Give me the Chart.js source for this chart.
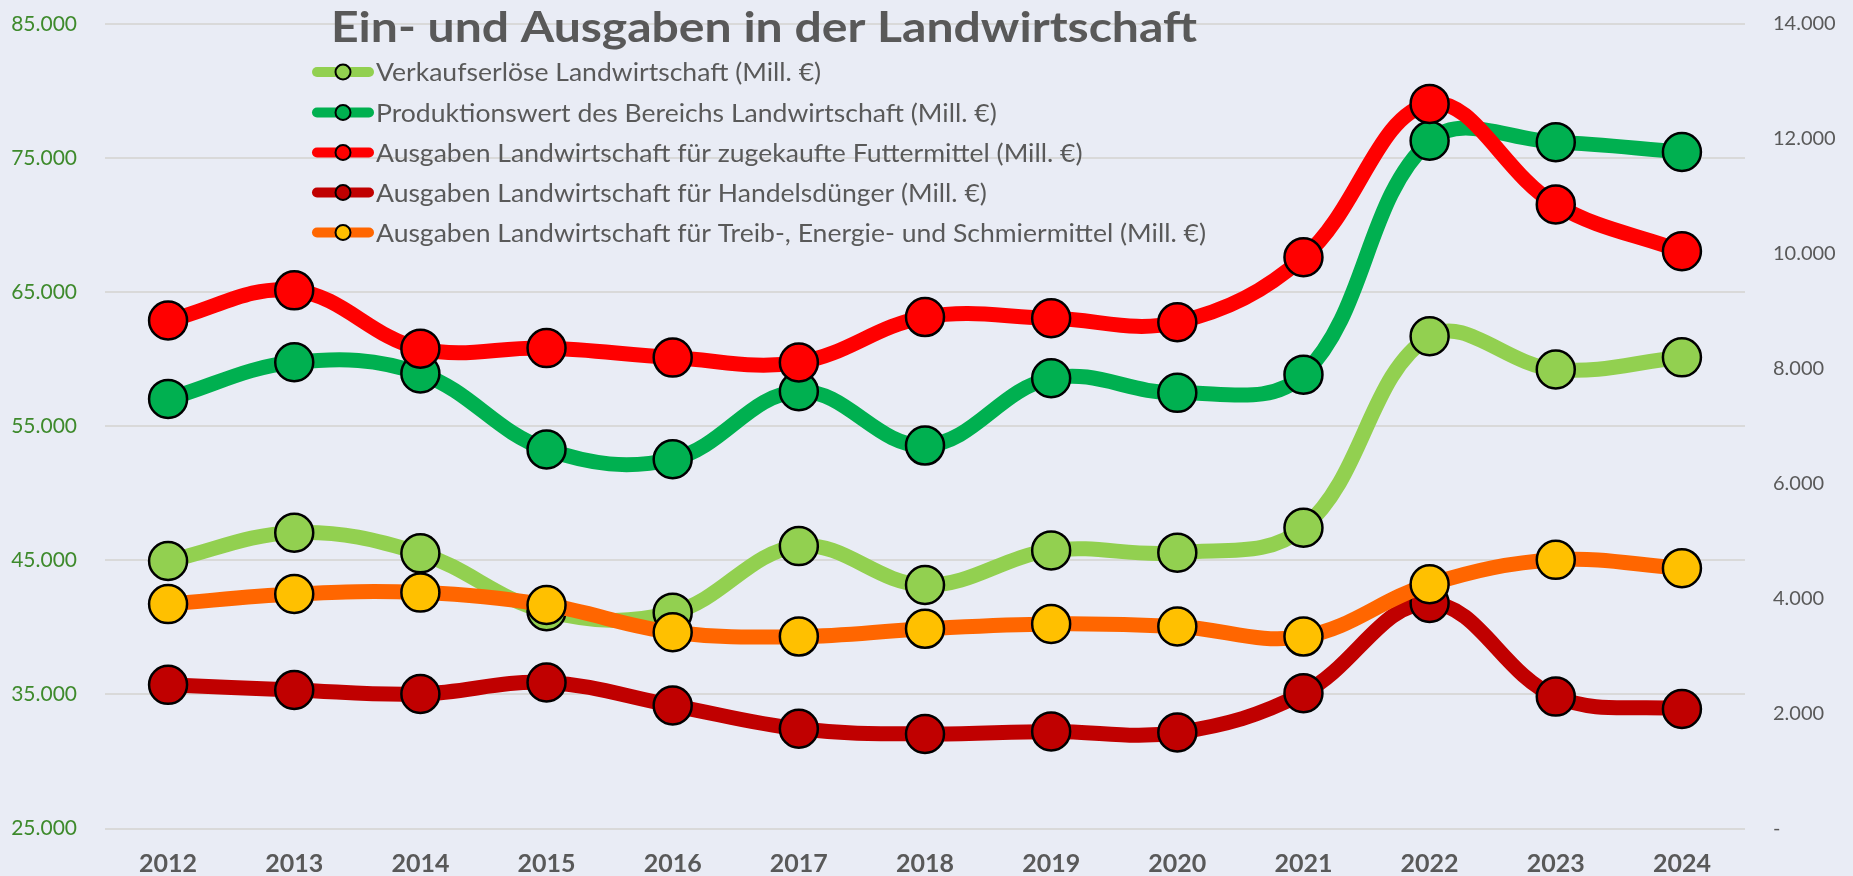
<!DOCTYPE html>
<html>
<head>
<meta charset="utf-8">
<script src="https://cdn.jsdelivr.net/npm/chart.js@4.4.1/dist/chart.umd.min.js"></script>
<style>
  html, body { margin: 0; padding: 0; background: #E9ECF5; }
  #wrap { width: 1853px; height: 876px; position: relative; }
</style>
</head>
<body>
<div id="wrap"><canvas id="c"></canvas></div>
<script>
// ---------- data ----------
const years = ['2012','2013','2014','2015','2016','2017','2018','2019','2020','2021','2022','2023','2024'];

const verkaufserloese = [44950, 47060, 45520, 41200, 41100, 46060, 43160, 45740, 45570, 47430, 61710, 59230, 60140];
const produktionswert = [57040, 59770, 58930, 53270, 52540, 57610, 53560, 58580, 57490, 58850, 76290, 76190, 75450];
const futtermittel    = [8840, 9365, 8350, 8360, 8195, 8110, 8900, 8880, 8810, 9940, 12610, 10860, 10045];
const handelsduenger  = [2500, 2410, 2340, 2540, 2140, 1735, 1645, 1690, 1670, 2355, 3925, 2295, 2080];
const treibstoffe     = [3905, 4080, 4105, 3890, 3415, 3340, 3475, 3560, 3515, 3340, 4250, 4675, 4530];

const seriesNames = [
  'Verkaufserlöse Landwirtschaft (Mill. €)',
  'Produktionswert des Bereichs Landwirtschaft (Mill. €)',
  'Ausgaben Landwirtschaft für zugekaufte Futtermittel (Mill. €)',
  'Ausgaben Landwirtschaft für Handelsdünger (Mill. €)',
  'Ausgaben Landwirtschaft für Treib-, Energie- und Schmiermittel (Mill. €)'
];

const leftTickValues  = [25000, 35000, 45000, 55000, 65000, 75000, 85000];
const leftTickLabels  = ['25.000', '35.000', '45.000', '55.000', '65.000', '75.000', '85.000'];
const rightTickValues = [0, 2000, 4000, 6000, 8000, 10000, 12000, 14000];
const rightTickLabels = ['-', '2.000', '4.000', '6.000', '8.000', '10.000', '12.000', '14.000'];

const titleText = 'Ein- und Ausgaben in der Landwirtschaft';

// ---------- styles ----------
const BG = '#E9ECF5';
const TEXT_GRAY = '#595959';
const lineColors   = ['#92D050', '#00B050', '#FF0000', '#C00000', '#FF6600'];
const markerColors = ['#92D050', '#00B050', '#FF0000', '#C00000', '#FFC000'];
const FONT = 'Lato, "Open Sans", sans-serif';

function makeDataset(i, data, axis) {
  return {
    label: seriesNames[i],
    data: data,
    yAxisID: axis,
    order: 5 - i,
    borderColor: lineColors[i],
    backgroundColor: markerColors[i],
    pointBackgroundColor: markerColors[i],
    pointBorderColor: '#000000',
    pointBorderWidth: 2.5,
    pointRadius: 19,
    pointHoverRadius: 19,
    borderWidth: 15,
    tension: 0.38,
    fill: false,
    borderCapStyle: 'round',
    borderJoinStyle: 'round'
  };
}

const bgPlugin = {
  id: 'bg',
  beforeDraw(chart) {
    const ctx = chart.ctx;
    ctx.save();
    ctx.fillStyle = BG;
    ctx.fillRect(0, 0, chart.width, chart.height);
    ctx.restore();
  }
};

const overlayPlugin = {
  id: 'overlay',
  afterDraw(chart) {
    const ctx = chart.ctx;
    ctx.save();
    ctx.fillStyle = TEXT_GRAY;
    ctx.textBaseline = 'alphabetic';
    ctx.textAlign = 'left';

    // title
    ctx.font = 'bold 42px ' + FONT;
    let tw = ctx.measureText(titleText).width;
    let sx = 866 / tw;
    ctx.save();
    ctx.translate(331, 42);
    ctx.scale(sx, 1);
    ctx.fillText(titleText, 0, 0);
    ctx.restore();

    // legend
    ctx.font = '25px ' + FONT;
    const longest = ctx.measureText(seriesNames[4]).width;
    const lsx = 830 / longest;
    const centers = [72, 112.5, 152.5, 192.5, 232.5];
    chart.data.datasets.forEach((ds, i) => {
      const cy = centers[i];
      ctx.save();
      ctx.strokeStyle = ds.borderColor;
      ctx.lineWidth = 10;
      ctx.lineCap = 'round';
      ctx.beginPath();
      ctx.moveTo(317, cy);
      ctx.lineTo(369, cy);
      ctx.stroke();
      ctx.beginPath();
      ctx.arc(343, cy, 7.5, 0, Math.PI * 2);
      ctx.fillStyle = ds.pointBackgroundColor;
      ctx.fill();
      ctx.lineWidth = 2;
      ctx.strokeStyle = '#000';
      ctx.stroke();
      ctx.restore();
      ctx.save();
      ctx.fillStyle = TEXT_GRAY;
      ctx.translate(376, cy + 9);
      ctx.scale(lsx, 1);
      ctx.fillText(ds.label, 0, 0);
      ctx.restore();
    });
    ctx.restore();
  }
};

function noPad(scale) {
  scale.paddingTop = 0;
  scale.paddingBottom = 0;
}

new Chart(document.getElementById('c'), {
  type: 'line',
  data: {
    labels: years,
    datasets: [
      makeDataset(0, verkaufserloese, 'y'),
      makeDataset(1, produktionswert, 'y'),
      makeDataset(2, futtermittel, 'y1'),
      makeDataset(3, handelsduenger, 'y1'),
      makeDataset(4, treibstoffe, 'y1')
    ]
  },
  options: {
    responsive: true,
    maintainAspectRatio: false,
    animation: false,
    layout: { padding: { top: 24, left: 0, right: 0, bottom: 0 } },
    plugins: {
      legend: { display: false },
      title: { display: false },
      tooltip: { enabled: false }
    },
    scales: {
      x: {
        type: 'category',
        offset: true,
        grid: { display: false, drawTicks: false },
        border: { display: false },
        ticks: {
          color: TEXT_GRAY,
          font: { family: FONT, size: 25, weight: 'bold' },
          padding: 20,
          maxRotation: 0,
          autoSkip: false
        },
        afterFit(scale) { scale.height = 47.5; scale.paddingLeft = 0; scale.paddingRight = 0; }
      },
      y: {
        position: 'left',
        min: 25000,
        max: 85000,
        afterBuildTicks(scale) { scale.ticks = leftTickValues.map(v => ({ value: v })); },
        grid: { color: '#D9D9D9', lineWidth: 2, drawTicks: false },
        border: { display: false },
        ticks: {
          color: '#3E8A2C',
          font: { family: FONT, size: 21 },
          padding: 28,
          callback: (v, i) => leftTickLabels[i]
        },
        afterFit(scale) { scale.width = 105; noPad(scale); }
      },
      y1: {
        position: 'right',
        min: 0,
        max: 14000,
        afterBuildTicks(scale) { scale.ticks = rightTickValues.map(v => ({ value: v })); },
        grid: { display: false, drawTicks: false },
        border: { display: false },
        ticks: {
          color: TEXT_GRAY,
          font: { family: FONT, size: 20 },
          padding: 28,
          callback: (v, i) => rightTickLabels[i]
        },
        afterFit(scale) { scale.width = 108; noPad(scale); }
      }
    }
  },
  plugins: [bgPlugin, overlayPlugin]
});
</script>
</body>
</html>
